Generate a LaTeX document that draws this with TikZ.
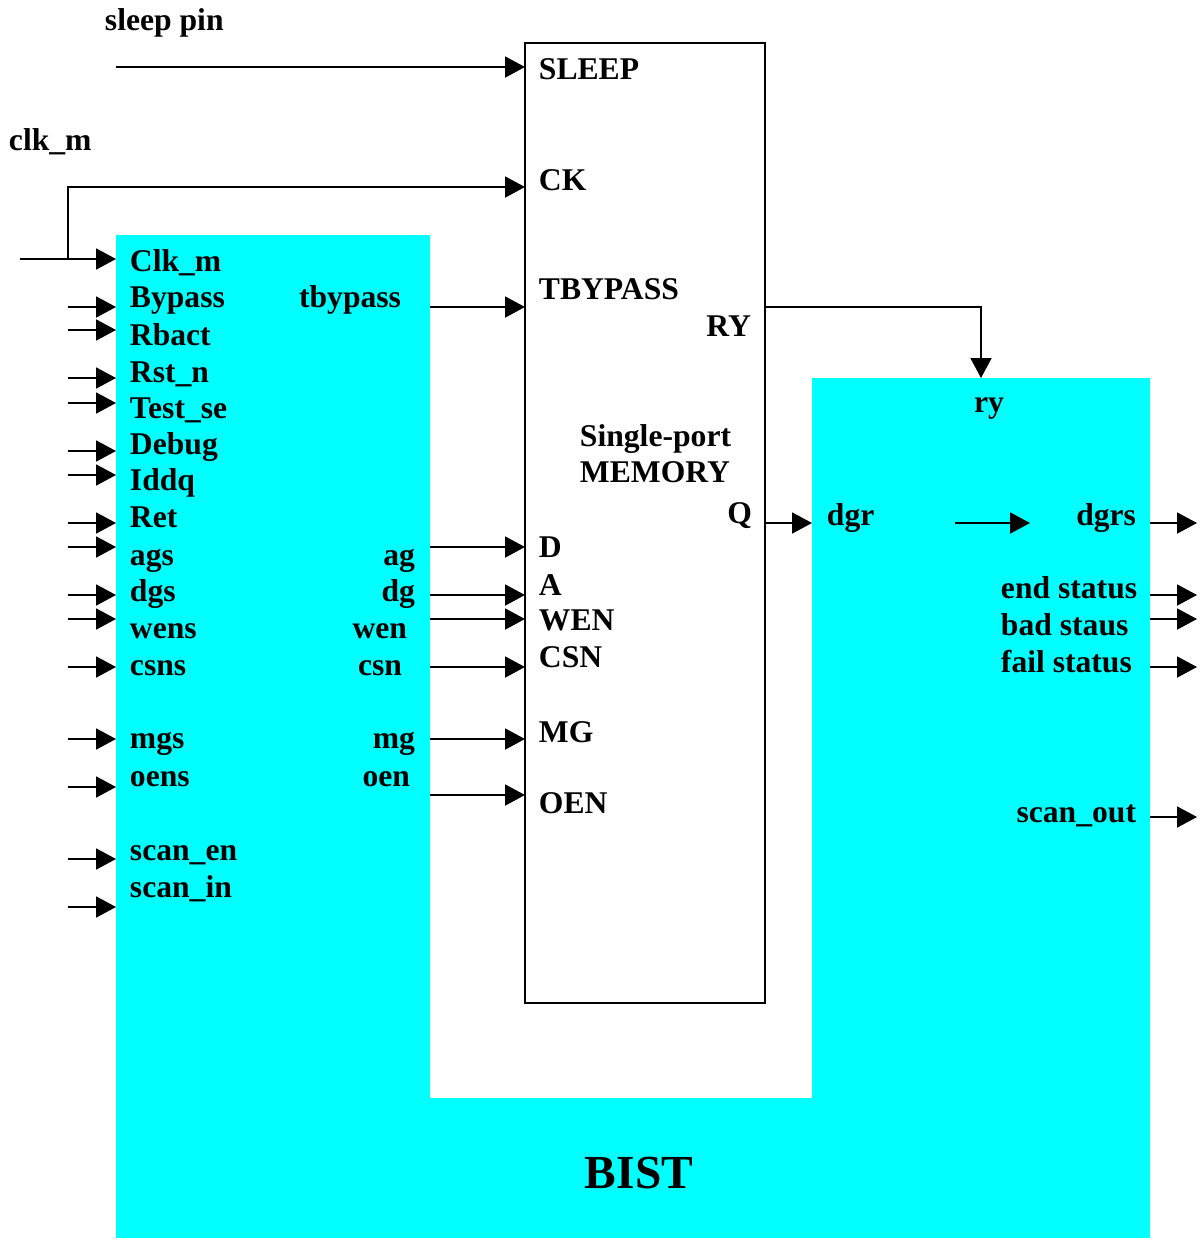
\documentclass[tikz,border=0pt]{standalone}
\usepackage{fontspec}
\setmainfont{Liberation Serif}
\usetikzlibrary{arrows.meta,positioning}
\definecolor{BistCyan}{RGB}{0,255,255}

\begin{document}
\begin{tikzpicture}[x=0.02cm,y=-0.02cm,>={Triangle[length=0.4cm,width=0.42cm]},line width=1.1pt]
        \tikzset{lbl/.style={anchor=base west,inner sep=0pt,font=\fontsize{18}{20}\selectfont\bfseries},
          lblr/.style={lbl,anchor=base east},
          mem/.style={draw,fill=white,minimum width=4.8cm,minimum height=19.2cm,inner sep=0pt},
          sig/.style={->}}
        \useasboundingbox (0,0) rectangle (1202,1238);
        % BIST block
        \fill[BistCyan] (116,235) -| (430,1098) -| (812,378) -| (1150,1238) -- (116,1238) -- cycle;
        \node[lbl,font=\fontsize{27}{30}\selectfont\bfseries,anchor=base] (bist) at (639,1188) {BIST};
        % memory
        \node[mem] (mem) at (645,523) {};
        \foreach \y/\t [count=\i] in {79/SLEEP,190/CK,299/TBYPASS,557/D,595/A,630/WEN,667/CSN,742/MG,813/OEN}
          {\node[lbl] (m\i) at (538,\y) {\t};}
        \node[lblr] (ry) at (752,336) {RY};
        \node[lblr] (q) at (753,523) {Q};
        \node[lbl,align=left,anchor=north west] (name) at (579,424) {Single-port\\MEMORY};
        % top inputs
        \node[lbl] (sleeplbl) at (104,30) {sleep pin};
        \node[lbl] (clklbl) at (8,150) {clk\_m};
        \coordinate (sleepin) at (116,67);
        \coordinate (sleepk) at (525,67);
        \draw[sig] (sleepin) -- (sleepk);
        \coordinate (clkin) at (20,259);
        \coordinate (clkbr) at (68,259);
        \coordinate (clkpin) at (116,259);
        \coordinate (ck) at (525,187);
        \draw[sig] (clkin) -- (clkpin);
        \draw[sig] (clkbr) |- (ck);
        \node[lbl] (clkm) at (129,271) {Clk\_m};
        % BIST inputs
        \foreach \ya/\yb/\t [count=\i] in {307/307/Bypass,330/345/Rbact,378/382/Rst\_n,403/418/Test\_se,
            451/454/Debug,475/490/Iddq,523/527/Ret,547/565/ags,595/601/dgs,619/638/wens,667/675/csns,
            739/748/mgs,787/786/oens,859/860/scan\_en,907/897/scan\_in}
          {\coordinate (in\i) at (68,\ya);
           \coordinate (pin\i) at (116,\ya);
           \draw[sig] (in\i) -- (pin\i);
           \node[lbl] (l\i) at (129,\yb) {\t};}
        % BIST to memory
        \foreach \ya/\yb/\xb/\t [count=\i] in {307/307/402/tbypass,547/565/416/ag,595/601/416/dg,619/638/408/wen,
            667/675/403/csn,739/748/416/mg,795/786/411/oen}
          {\coordinate (out\i) at (430,\ya);
           \coordinate (mpin\i) at (525,\ya);
           \draw[sig] (out\i) -- (mpin\i);
           \node[lblr] (r\i) at (\xb,\yb) {\t};}
        % memory to BIST
        \coordinate (ryout) at (765,307);
        \coordinate (ryin) at (981,378);
        \draw[sig] (ryout) -| (ryin);
        \coordinate (qout) at (765,523);
        \coordinate (dgrin) at (812,523);
        \draw[sig] (qout) -- (dgrin);
        \node[lbl,anchor=base] (rylbl) at (989,412) {ry};
        \node[lbl] (dgr) at (826,525) {dgr};
        \coordinate (ia) at (955,523);
        \coordinate (ib) at (1030,523);
        \draw[sig] (ia) -- (ib);
        % BIST outputs
        \node[lblr] (dgrs) at (1137,525) {dgrs};
        \node[lbl] (endst) at (1000,598) {end status};
        \node[lbl] (badst) at (1000,635) {bad staus};
        \node[lbl] (failst) at (1000,672) {fail status};
        \node[lblr] (scanout) at (1137,822) {scan\_out};
        \foreach \y [count=\i] in {523,595,619,667,817}
          {\coordinate (o\i) at (1150,\y);
           \coordinate (e\i) at (1197,\y);
           \draw[sig] (o\i) -- (e\i);}
      \end{tikzpicture}
\end{document}
